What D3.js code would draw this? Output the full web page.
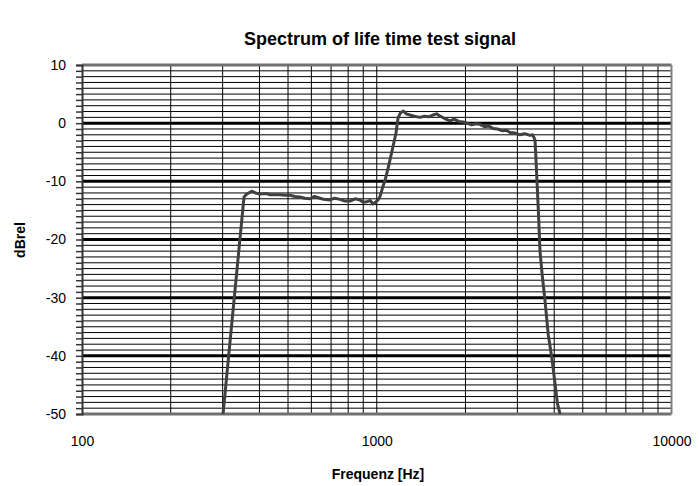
<!DOCTYPE html>
<html>
<head>
<meta charset="utf-8">
<script src="https://cdn.jsdelivr.net/npm/d3@7"></script>
<style>
  body { margin: 0; background: #fff; }
  text { font-family: "Liberation Sans", Arial, sans-serif; fill: #000; }
</style>
</head>
<body>
<svg id="chart" width="699" height="486"></svg>
<script>
const title = "Spectrum of life time test signal";
const xTitle = "Frequenz [Hz]";
const yTitle = "dBrel";
const xTickValues = [100, 1000, 10000];
const yTickValues = [10, 0, -10, -20, -30, -40, -50];

const freq = [301, 354.5, 362, 376.5, 388, 401.8, 420, 436, 451.7, 470, 490, 507.8, 528, 549,
  570, 593.6, 615, 642, 660, 694, 720, 750.5, 780, 811.5, 845, 877.5, 900, 926.7, 950, 971, 990, 1010,
  1026, 1045, 1067, 1090, 1109, 1138, 1162, 1181, 1205, 1231, 1260, 1297, 1340, 1402, 1450, 1500, 1550, 1597,
  1640, 1700, 1773, 1830, 1900, 1960, 2020, 2100, 2170, 2240, 2320, 2400, 2480, 2570, 2660, 2750, 2832,
  2950, 3062, 3180, 3311, 3380, 3416, 3443, 3470, 3533, 3580, 3640, 3722, 3819, 3922, 4024, 4098, 4185];
const dB = [-50, -12.7, -12.2, -11.7, -12.0, -12.2, -12.1, -12.3, -12.3, -12.3, -12.4, -12.4, -12.6, -12.7,
  -12.9, -13.0, -12.6, -12.9, -13.1, -13.2, -12.9, -13.1, -13.4, -13.4, -13.0, -13.2, -13.6, -13.5, -13.3, -13.9, -13.6, -13.2,
  -12.6, -11.2, -9.8, -8.0, -6.3, -3.8, -1.7, 0.9, 1.8, 2.1, 1.6, 1.4, 1.2, 1.0, 1.2, 1.1, 1.4, 1.6,
  1.2, 0.8, 0.4, 0.7, 0.3, 0.2, 0.0, -0.3, -0.1, -0.2, -0.6, -0.5, -0.9, -1.0, -1.3, -1.2, -1.6,
  -1.7, -2.0, -1.8, -2.1, -2.0, -2.5, -2.9, -6.3, -14.9, -22.0, -26.0, -30.5, -36.4, -40.2, -44.7, -48.1, -50];

const svg = d3.select("#chart");
const L = 82, R = 671.5, T = 65, B = 414;

const x = d3.scaleLog().domain([100, 10000]).range([L, R]);
const y = d3.scaleLinear().domain([-50, 10]).range([B, T]);

// minor vertical gridlines
const vLines = [];
for (let dec = 100; dec < 10000; dec *= 10) {
  for (let k = 2; k <= 9; k++) vLines.push(dec * k);
}
vLines.push(1000);
svg.append("g").selectAll("line").data(vLines).join("line")
  .attr("x1", d => x(d)).attr("x2", d => x(d))
  .attr("y1", T).attr("y2", B)
  .attr("stroke", "#000").attr("stroke-width", 1);

// horizontal gridlines every 1 dB
const hMinor = d3.range(-49, 10).filter(v => v % 10 !== 0);
svg.append("g").selectAll("line").data(hMinor).join("line")
  .attr("x1", L).attr("x2", R)
  .attr("y1", d => y(d)).attr("y2", d => y(d))
  .attr("stroke", "#000").attr("stroke-width", 1);

const hMajor = [-40, -30, -20, -10, 0];
svg.append("g").selectAll("line").data(hMajor).join("line")
  .attr("x1", L).attr("x2", R)
  .attr("y1", d => y(d)).attr("y2", d => y(d))
  .attr("stroke", "#000").attr("stroke-width", 3);

// frame
svg.append("line").attr("x1", L).attr("x2", R).attr("y1", y(10)).attr("y2", y(10))
  .attr("stroke", "#707070").attr("stroke-width", 3);
svg.append("line").attr("x1", L).attr("x2", R).attr("y1", y(-50)).attr("y2", y(-50))
  .attr("stroke", "#707070").attr("stroke-width", 3);
svg.append("line").attr("x1", R).attr("x2", R).attr("y1", T).attr("y2", B)
  .attr("stroke", "#808080").attr("stroke-width", 2);

// y axis with 1 dB ticks
const yAxis = d3.axisLeft(y).tickValues(d3.range(-50, 11, 1)).tickSize(6)
  .tickFormat(d => yTickValues.includes(d) ? d : "");
const gy = svg.append("g").attr("transform", `translate(${L},0)`).call(yAxis);
gy.select(".domain").attr("stroke", "#333").attr("stroke-width", 2);
gy.selectAll(".tick line").attr("stroke", "#333").attr("stroke-width", 1.5);
gy.selectAll(".tick text").attr("font-size", 14).attr("font-family", "Liberation Sans, Arial, sans-serif")
  .attr("x", -16).attr("fill", "#000");

// x axis labels
const xAxis = d3.axisBottom(x).tickValues(xTickValues).tickSize(0).tickFormat(d3.format("d"));
const gx = svg.append("g").attr("transform", `translate(0,${B})`).call(xAxis);
gx.select(".domain").remove();
gx.selectAll(".tick text").attr("font-size", 14).attr("font-family", "Liberation Sans, Arial, sans-serif")
  .attr("y", 22).attr("fill", "#000");

// data line
const line = d3.line().x((d, i) => x(freq[i])).y(d => y(d));
svg.append("path").datum(dB)
  .attr("d", line)
  .attr("fill", "none")
  .attr("stroke", "#404040")
  .attr("stroke-width", 3)
  .attr("stroke-linejoin", "round");

// titles
svg.append("text").attr("x", 380).attr("y", 45).attr("text-anchor", "middle")
  .attr("font-size", 18).attr("font-weight", "bold").text(title);
svg.append("text").attr("x", 378).attr("y", 479).attr("text-anchor", "middle")
  .attr("font-size", 14).attr("font-weight", "bold").text(xTitle);
svg.append("text").attr("transform", "translate(25,240) rotate(-90)").attr("text-anchor", "middle")
  .attr("font-size", 14).attr("font-weight", "bold").text(yTitle);
</script>
</body>
</html>
